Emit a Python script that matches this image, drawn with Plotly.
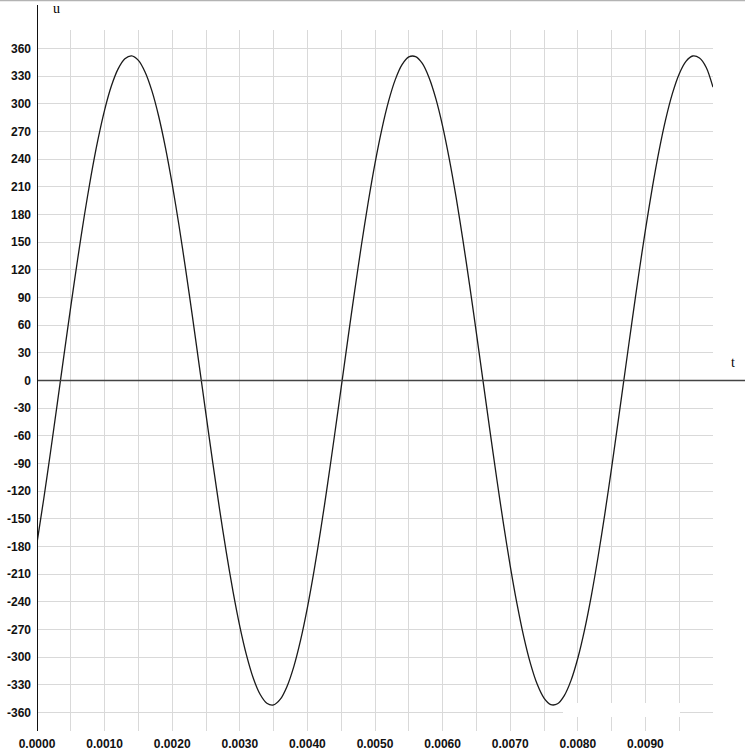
import plotly.graph_objects as go

# sample times (s)
t = [0.0000, 0.0001, 0.0002, 0.0003, 0.0004, 0.0005, 0.0006, 0.0007, 0.0008, 0.0009,
     0.0010, 0.0011, 0.0012, 0.0013, 0.0014, 0.0015, 0.0016, 0.0017, 0.0018, 0.0019,
     0.0020, 0.0021, 0.0022, 0.0023, 0.0024, 0.0025, 0.0026, 0.0027, 0.0028, 0.0029,
     0.0030, 0.0031, 0.0032, 0.0033, 0.0034, 0.0035, 0.0036, 0.0037, 0.0038, 0.0039,
     0.0040, 0.0041, 0.0042, 0.0043, 0.0044, 0.0045, 0.0046, 0.0047, 0.0048, 0.0049,
     0.0050, 0.0051, 0.0052, 0.0053, 0.0054, 0.0055, 0.0056, 0.0057, 0.0058, 0.0059,
     0.0060, 0.0061, 0.0062, 0.0063, 0.0064, 0.0065, 0.0066, 0.0067, 0.0068, 0.0069,
     0.0070, 0.0071, 0.0072, 0.0073, 0.0074, 0.0075, 0.0076, 0.0077, 0.0078, 0.0079,
     0.0080, 0.0081, 0.0082, 0.0083, 0.0084, 0.0085, 0.0086, 0.0087, 0.0088, 0.0089,
     0.0090, 0.0091, 0.0092, 0.0093, 0.0094, 0.0095, 0.0096, 0.0097, 0.0098, 0.0099,
     0.0100]

# voltage readings u(t)
u = [-176.0, -128.2, -77.5, -25.0, 28.0, 80.4, 130.9, 178.6, 222.1, 260.6,
     293.2, 319.2, 337.8, 348.8, 352.0, 347.1, 334.3, 314.0, 286.5, 252.5,
     212.8, 168.3, 119.9, 68.9, 16.2, -36.8, -89.0, -139.1, -186.1, -228.9,
     -266.5, -298.0, -322.8, -340.2, -349.9, -351.7, -345.5, -331.4, -309.9, -281.3,
     -246.3, -205.7, -160.4, -111.6, -60.2, -7.4, 45.6, 97.5, 147.2, 193.5,
     235.5, 272.1, 302.6, 326.2, 342.4, 350.8, 351.2, 343.7, 328.3, 305.6,
     275.9, 239.8, 198.5, 152.5, 103.1, 51.4, -1.5, -54.3, -106.0, -155.2,
     -200.9, -242.0, -277.7, -307.0, -329.4, -344.3, -351.4, -350.5, -341.6, -325.1,
     -301.1, -270.3, -233.4, -191.1, -144.5, -94.7, -42.7, 10.3, 63.1, 114.4,
     163.1, 208.1, 248.4, 283.1, 311.3, 332.4, 346.0, 351.8, 349.6, 339.4,
     318.0]

x_tickvals = [0.0000, 0.0005, 0.0010, 0.0015, 0.0020, 0.0025, 0.0030, 0.0035, 0.0040, 0.0045,
              0.0050, 0.0055, 0.0060, 0.0065, 0.0070, 0.0075, 0.0080, 0.0085, 0.0090, 0.0095]
x_ticktext = ["0.0000", "", "0.0010", "", "0.0020", "", "0.0030", "", "0.0040", "",
              "0.0050", "", "0.0060", "", "0.0070", "", "0.0080", "", "0.0090", ""]
y_tickvals = [-360, -330, -300, -270, -240, -210, -180, -150, -120, -90, -60, -30, 0,
              30, 60, 90, 120, 150, 180, 210, 240, 270, 300, 330, 360]
y_ticktext = [str(v) for v in y_tickvals]

W, H = 745, 754
ML, MR, MT, MB = 37, 32, 30, 23
PW, PH = W - ML - MR, H - MT - MB

def px_x(px):
    return (px - ML) / PW

def px_y(py):
    return (H - MB - py) / PH

fig = go.Figure()
fig.add_trace(go.Scatter(
    x=t, y=u, mode="lines",
    line=dict(color="#1a1a1a", width=1.3, shape="spline", smoothing=0.8),
    hoverinfo="skip", showlegend=False,
))

tick_font = dict(family="Liberation Sans", size=12, color="#111111", weight="bold")

fig.update_layout(
    width=W, height=H,
    margin=dict(l=ML, r=MR, t=MT, b=MB, pad=0, autoexpand=False),
    paper_bgcolor="white", plot_bgcolor="white",
    showlegend=False,
    xaxis=dict(
        range=[0, 0.01], tickmode="array", tickvals=x_tickvals, ticktext=x_ticktext,
        showgrid=True, gridcolor="#d9d9d9", gridwidth=1, automargin=False,
        zeroline=False, showline=False, ticks="", tickfont=tick_font,
        ticklabelstandoff=4, fixedrange=True,
    ),
    yaxis=dict(
        range=[-380, 380], tickmode="array", tickvals=y_tickvals, ticktext=y_ticktext,
        showgrid=True, gridcolor="#d9d9d9", gridwidth=1, automargin=False,
        zeroline=False, showline=False, ticks="", tickfont=tick_font,
        ticklabelstandoff=5, fixedrange=True,
    ),
    shapes=[
        # top border line
        dict(type="line", xref="paper", yref="paper", x0=px_x(0), x1=px_x(W),
             y0=px_y(0.5), y1=px_y(0.5), line=dict(color="#b3b3b3", width=1.5), layer="above"),
        # white patch artifact near bottom right
        dict(type="rect", xref="paper", yref="paper", x0=px_x(563), x1=px_x(680),
             y0=px_y(717), y1=px_y(703), fillcolor="white", line=dict(width=0), layer="above"),
        # horizontal t-axis at u = 0
        dict(type="line", xref="paper", yref="y", x0=0, x1=px_x(W), y0=0, y1=0,
             line=dict(color="#444444", width=1.5), layer="above"),
        # vertical u-axis
        dict(type="line", xref="x", yref="paper", x0=0, x1=0, y0=0, y1=px_y(5),
             line=dict(color="#111111", width=2), layer="above"),
    ],
    annotations=[
        dict(text="u", xref="paper", yref="paper", x=px_x(56), y=px_y(9),
             xanchor="center", yanchor="middle", showarrow=False,
             font=dict(family="Liberation Serif", size=14, color="#000000")),
        dict(text="t", xref="paper", yref="paper", x=px_x(733), y=px_y(362),
             xanchor="center", yanchor="middle", showarrow=False,
             font=dict(family="Liberation Serif", size=14, color="#000000")),
    ],
)

fig.write_html(
    "out.html",
    config={"displayModeBar": False, "staticPlot": True},
    post_script="document.body.style.margin='0';document.body.style.padding='0';"
                "document.body.style.overflow='hidden';"
                "document.documentElement.style.overflow='hidden';",
)
